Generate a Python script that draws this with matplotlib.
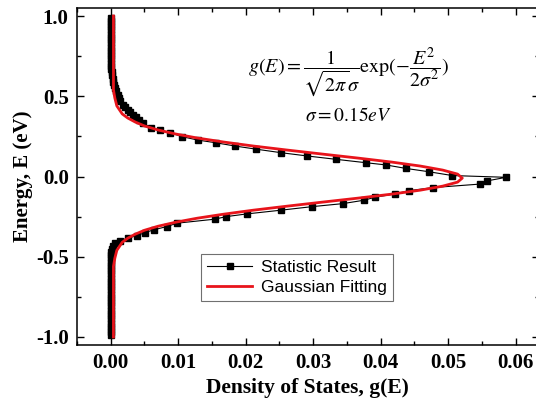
import matplotlib
matplotlib.use('Agg')
import matplotlib.pyplot as plt
from matplotlib.ticker import MultipleLocator

# Statistic result (energy in eV, density of states)
E_stat = [0.99, 0.97, 0.95, 0.93, 0.91, 0.89, 0.87, 0.85, 0.83, 0.81, 0.79, 0.77,
          0.75, 0.73, 0.71, 0.69, 0.67, 0.65, 0.63, 0.61, 0.59, 0.57, 0.55, 0.53,
          0.51, 0.49, 0.47, 0.445, 0.43, 0.414, 0.40, 0.383, 0.37, 0.355, 0.331,
          0.304, 0.289, 0.273, 0.248, 0.227, 0.210, 0.190, 0.170, 0.148, 0.128,
          0.107, 0.086, 0.072, 0.050, 0.030, 0.006, -0.005, -0.028, -0.047, -0.069,
          -0.088, -0.109, -0.129, -0.148, -0.169, -0.188, -0.210, -0.233, -0.250,
          -0.266, -0.291, -0.312, -0.332, -0.349, -0.368, -0.385, -0.40, -0.415,
          -0.43, -0.45, -0.47, -0.49, -0.51, -0.53, -0.55, -0.57, -0.59, -0.61,
          -0.63, -0.65, -0.67, -0.69, -0.71, -0.73, -0.75, -0.77, -0.79, -0.81,
          -0.83, -0.85, -0.87, -0.89, -0.91, -0.93, -0.95, -0.97, -0.99]
g_stat = [0.0, 0.0, 0.0, 0.0, 0.0, 0.0, 0.0, 0.0, 0.0, 0.0, 0.0, 0.0,
          0.0, 0.0001, 0.0001, 0.0001, 0.0001, 0.0002, 0.0002, 0.0003, 0.0004, 0.0005, 0.0006, 0.0008,
          0.0010, 0.0012, 0.0014, 0.0018, 0.0021, 0.0026, 0.0029, 0.0033, 0.0037, 0.0042, 0.0048,
          0.0060, 0.0073, 0.0088, 0.0106, 0.0129, 0.0156, 0.0184, 0.0216, 0.0253, 0.0291,
          0.0334, 0.0378, 0.0408, 0.0438, 0.0471, 0.0506, 0.0586, 0.0557, 0.0548, 0.0478,
          0.0442, 0.0421, 0.0392, 0.0375, 0.0344, 0.0298, 0.0252, 0.0202, 0.0171,
          0.0154, 0.0098, 0.0083, 0.0064, 0.0051, 0.0039, 0.0025, 0.0014, 0.0007,
          0.0004, 0.0002, 0.0001, 0.0001, 0.0001, 0.0001, 0.0001, 0.0001, 0.0, 0.0,
          0.0, 0.0, 0.0, 0.0, 0.0, 0.0, 0.0, 0.0, 0.0, 0.0,
          0.0, 0.0, 0.0, 0.0, 0.0, 0.0, 0.0, 0.0, 0.0]

# Gaussian fitting curve
E_fit = [-1.0, -0.56, -0.51, -0.46, -0.41, -0.385, -0.36, -0.335, -0.31, -0.285,
         -0.26, -0.235, -0.21, -0.185, -0.16, -0.135, -0.11, -0.085, -0.06, -0.035,
         -0.01, 0.015, 0.04, 0.065, 0.09, 0.115, 0.14, 0.165, 0.19, 0.215,
         0.24, 0.265, 0.29, 0.315, 0.34, 0.365, 0.39, 0.44, 0.49, 0.54, 1.0]
g_fit = [0.0004, 0.0004, 0.0006, 0.0009, 0.0017, 0.0025, 0.0036, 0.0050, 0.0070, 0.0096,
         0.0128, 0.0167, 0.0211, 0.0261, 0.0313, 0.0366, 0.0416, 0.0459, 0.0492, 0.0514,
         0.0521, 0.0514, 0.0492, 0.0459, 0.0416, 0.0366, 0.0313, 0.0261, 0.0211, 0.0167,
         0.0128, 0.0096, 0.0070, 0.0050, 0.0036, 0.0025, 0.0017, 0.0009, 0.0006, 0.0004, 0.0004]

plt.rcParams['axes.unicode_minus'] = False
plt.rcParams['mathtext.fontset'] = 'stix'

fig = plt.figure(figsize=(5.36, 4.08), dpi=100)
ax = fig.add_axes([0.1437, 0.1544, 0.861, 0.826])

ax.plot(g_stat, E_stat, color='black', lw=0.8, marker='s', ms=5, label='Statistic Result')
ax.plot(g_fit, E_fit, color='#e8141b', lw=2.0, label='Gaussian Fitting')

ax.set_xlim(-0.005, 0.0634)
ax.set_ylim(-1.05, 1.05)
ax.xaxis.set_major_locator(MultipleLocator(0.01))
ax.xaxis.set_minor_locator(MultipleLocator(0.005))
ax.yaxis.set_major_locator(MultipleLocator(0.5))
ax.yaxis.set_minor_locator(MultipleLocator(0.25))
ax.tick_params(which='both', direction='in', top=True, right=True, width=1.0)
ax.tick_params(which='major', length=5, pad=6)
ax.tick_params(which='minor', length=3)
for s in ax.spines.values():
    s.set_linewidth(1.1)

for lab in ax.get_xticklabels() + ax.get_yticklabels():
    lab.set_fontfamily('Liberation Serif')
    lab.set_fontweight('bold')
    lab.set_fontsize(15)

ax.set_xlabel('Density of States, g(E)', fontfamily='Liberation Serif',
              fontweight='bold', fontsize=15.5, labelpad=3)
ax.set_ylabel('Energy, E (eV)', fontfamily='Liberation Serif',
              fontweight='bold', fontsize=15, labelpad=2)

ax.text(0.37, 0.81, r'$g(E)=\dfrac{1}{\sqrt{2\pi}\sigma}\exp(-\dfrac{E^2}{2\sigma^2})$',
        transform=ax.transAxes, fontsize=14.5, va='center', ha='left')
ax.text(0.495, 0.68, r'$\sigma=0.15eV$', transform=ax.transAxes, fontsize=14,
        va='center', ha='left')

leg = ax.legend(loc='lower left', bbox_to_anchor=(0.269, 0.131), borderaxespad=0,
                prop={'family': 'Liberation Sans', 'size': 12.5}, fancybox=False,
                edgecolor='#707070', framealpha=1, numpoints=1, handlelength=2.6,
                handletextpad=0.5, labelspacing=0.25, borderpad=0.35)
leg.get_frame().set_linewidth(0.8)

fig.savefig('out.png', dpi=100)
